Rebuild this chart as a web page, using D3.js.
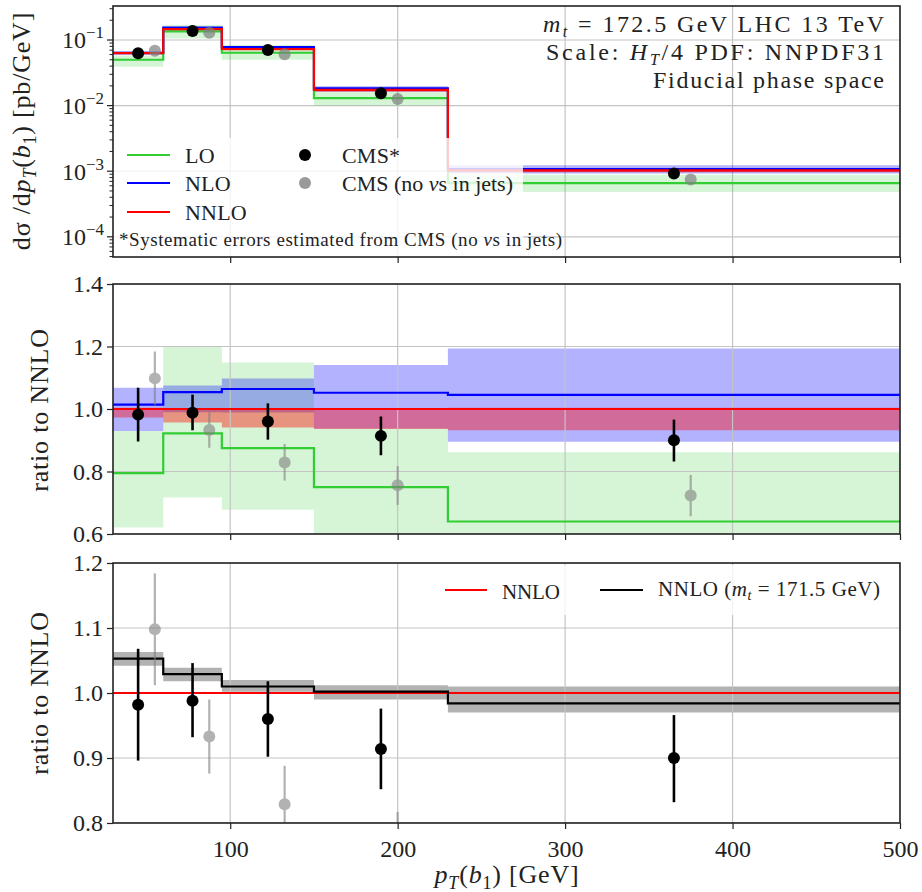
<!DOCTYPE html>
<html>
<head>
<meta charset="utf-8">
<script src="https://cdn.jsdelivr.net/npm/d3@7"></script>
<style>
  body { margin: 0; background: #fff; }
  text { font-family: "Liberation Serif", "DejaVu Serif", serif; fill: #222; }
</style>
</head>
<body>
<div id="chart"></div>
<script>
// bin edges and ticks
var binEdges = [30, 60, 95, 150, 230, 500];
var xTicks = [100, 200, 300, 400, 500];
var topTicks = [1e-4, 1e-3, 1e-2, 1e-1];
var midTicks = [0.6, 0.8, 1.0, 1.2, 1.4];
var botTicks = [0.8, 0.9, 1.0, 1.1, 1.2];

// top panel: dsigma/dpT [pb/GeV]
var loVals = [0.050, 0.135, 0.064, 0.0130, 0.00066];
var loBandLo = [0.039, 0.105, 0.050, 0.0100, 0.00048];
var loBandHi = [0.058, 0.170, 0.084, 0.0163, 0.00088];
var nloVals = [0.064, 0.155, 0.078, 0.0183, 0.00108];
var nloBandLo = [0.059, 0.145, 0.072, 0.0163, 0.00092];
var nloBandHi = [0.067, 0.158, 0.080, 0.0198, 0.00123];
var nnloVals = [0.063, 0.147, 0.073, 0.0174, 0.00103];
var nnloBandLo = [0.061, 0.141, 0.069, 0.0163, 0.00096];
var nnloBandHi = [0.0633, 0.1475, 0.0733, 0.0175, 0.00104];

// data points
var cmsX = [45, 77.5, 122.5, 190, 365];
var cmsVals = [0.0627, 0.137, 0.0704, 0.0154, 0.00092];
var noNuX = [55, 87.5, 132.5, 200, 375];
var noNuVals = [0.0687, 0.129, 0.0605, 0.0126, 0.00075];

// middle panel: ratio to NNLO
var loRatio = [0.795, 0.922, 0.875, 0.750, 0.640];
var loRatioLo = [0.621, 0.717, 0.678, 0.575, 0.470];
var loRatioHi = [0.930, 1.200, 1.149, 0.938, 0.862];
var nloRatio = [1.014, 1.054, 1.064, 1.052, 1.045];
var nloRatioLo = [0.930, 0.990, 0.989, 0.938, 0.895];
var nloRatioHi = [1.068, 1.075, 1.098, 1.141, 1.194];
var nnloRatio = [1.0, 1.0, 1.0, 1.0, 1.0];
var nnloRatioLo = [0.973, 0.957, 0.941, 0.936, 0.932];
var nnloRatioHi = [1.004, 1.003, 1.003, 1.003, 1.004];

var cmsRatio = [0.982, 0.988, 0.960, 0.914, 0.900];
var cmsRatioLo = [0.896, 0.932, 0.902, 0.852, 0.832];
var cmsRatioHi = [1.068, 1.046, 1.018, 0.976, 0.966];
var noNuRatio = [1.098, 0.933, 0.829, 0.756, 0.723];
var noNuRatioLo = [1.012, 0.876, 0.771, 0.693, 0.657];
var noNuRatioHi = [1.184, 0.990, 0.888, 0.817, 0.789];

// bottom panel: mt = 171.5 GeV over NNLO
var mtRatio = [1.053, 1.029, 1.010, 1.002, 0.984];
var mtRatioLo = [1.042, 1.018, 1.002, 0.990, 0.970];
var mtRatioHi = [1.063, 1.039, 1.020, 1.012, 1.010];

var W = 922, H = 892;
var green = "#32cd32", blue = "#0000ff", red = "#ff0000";
var serif = "Liberation Serif, DejaVu Serif, serif";

var svg = d3.select("#chart").append("svg")
  .attr("width", W)
  .attr("height", H)
  .attr("font-family", serif);

var x = d3.scaleLinear().domain([30, 500]).range([113, 900]);
var yTop = d3.scaleLog().domain([4.92e-5, 0.33]).range([257, 6]);
var yMid = d3.scaleLinear().domain([0.6, 1.4]).range([534, 284]);
var yBot = d3.scaleLinear().domain([0.8, 1.2]).range([823, 563]);

//step helpers: one point per edge, last value repeated
function steps(vals) {
  return binEdges.map(function(e, i) { return {x: e, v: vals[Math.min(i, vals.length - 1)]}; });
}
function bandSteps(lo, hi) {
  return binEdges.map(function(e, i) {
    var k = Math.min(i, lo.length - 1);
    return {x: e, lo: lo[k], hi: hi[k]};
  });
}

// rich text: parts with italic / subscript flags
function richText(t, parts, subSize, shift) {
  var down = false;
  parts.forEach(function(s) {
    var ts = t.append("tspan").text(s.t);
    if (s.i) ts.attr("font-style", "italic");
    if (s.sub) {
      ts.attr("font-size", subSize);
      if (!down) { ts.attr("dy", shift); down = true; }
    } else if (down) {
      ts.attr("dy", -shift); down = false;
    }
  });
}

function setupPanel(id, y, ticks) {
  var r = y.range();
  var g = svg.append("g");
  svg.append("clipPath").attr("id", id)
    .append("rect")
    .attr("x", x.range()[0]).attr("y", r[1])
    .attr("width", x.range()[1] - x.range()[0])
    .attr("height", r[0] - r[1]);
  var inner = g.append("g").attr("clip-path", "url(#" + id + ")");
  return {g: g, inner: inner, y: y, ticks: ticks};
}

function drawGrid(p) {
  var r = p.y.range();
  p.inner.selectAll(".gx").data(xTicks).enter().append("line")
    .attr("x1", d => x(d)).attr("x2", d => x(d))
    .attr("y1", r[0]).attr("y2", r[1])
    .attr("stroke", "#c4c4c4").attr("stroke-width", 1.2);
  p.inner.selectAll(".gy").data(p.ticks).enter().append("line")
    .attr("x1", x.range()[0]).attr("x2", x.range()[1])
    .attr("y1", d => p.y(d)).attr("y2", d => p.y(d))
    .attr("stroke", "#c4c4c4").attr("stroke-width", 1.2);
}

function drawBand(p, lo, hi, color, op) {
  var area = d3.area().curve(d3.curveStepAfter)
    .x(d => x(d.x)).y0(d => p.y(d.lo)).y1(d => p.y(d.hi));
  p.inner.append("path").datum(bandSteps(lo, hi))
    .attr("d", area).attr("fill", color).attr("fill-opacity", op);
}

function drawStep(p, vals, color, w) {
  var line = d3.line().curve(d3.curveStepAfter)
    .x(d => x(d.x)).y(d => p.y(d.v));
  p.inner.append("path").datum(steps(vals))
    .attr("d", line).attr("fill", "none")
    .attr("stroke", color).attr("stroke-width", w);
}

function drawPoints(p, xs, vals, lo, hi, color, op, r, w) {
  var g = p.inner.append("g").attr("opacity", op);
  if (lo) {
    g.selectAll("line").data(xs).enter().append("line")
      .attr("x1", d => x(d)).attr("x2", d => x(d))
      .attr("y1", (d, i) => p.y(lo[i])).attr("y2", (d, i) => p.y(hi[i]))
      .attr("stroke", color).attr("stroke-width", w);
  }
  g.selectAll("circle").data(xs).enter().append("circle")
    .attr("cx", d => x(d)).attr("cy", (d, i) => p.y(vals[i]))
    .attr("r", r).attr("fill", color);
}

function drawFrame(p, labels) {
  var r = p.y.range();
  var xAxis = d3.axisBottom(x).tickValues(xTicks).tickSize(6).tickFormat(labels ? d3.format("d") : "");
  var ax = p.g.append("g").attr("transform", "translate(0," + r[0] + ")").call(xAxis)
    .attr("font-family", serif);
  ax.select(".domain").remove();
  ax.selectAll("line").attr("stroke", "#222").attr("stroke-width", 1.2);
  ax.selectAll("text").attr("font-size", 24).attr("dy", "1.05em").attr("fill", "#222");
  p.g.append("rect")
    .attr("x", x.range()[0]).attr("y", r[1])
    .attr("width", x.range()[1] - x.range()[0]).attr("height", r[0] - r[1])
    .attr("fill", "none").attr("stroke", "#222").attr("stroke-width", 1.6);
}

function linearYAxis(p, fmt) {
  var ax = p.g.append("g").attr("transform", "translate(" + x.range()[0] + ",0)")
    .call(d3.axisLeft(p.y).tickValues(p.ticks).tickSize(6).tickFormat(d3.format(fmt)))
    .attr("font-family", serif);
  ax.select(".domain").remove();
  ax.selectAll("line").attr("stroke", "#222").attr("stroke-width", 1.2);
  ax.selectAll("text").attr("font-size", 24).attr("x", -10).attr("fill", "#222");
}

function yLabel(cx, cy, parts) {
  var t = svg.append("text")
    .attr("transform", "translate(" + cx + "," + cy + ") rotate(-90)")
    .attr("text-anchor", "middle").attr("font-size", 26)
    .attr("letter-spacing", 0.8);
  richText(t, parts, 18, 6);
}

// ---------- top panel ----------
var pTop = setupPanel("clipTop", yTop, topTicks);
drawGrid(pTop);
drawBand(pTop, loBandLo, loBandHi, green, 0.2);
drawBand(pTop, nloBandLo, nloBandHi, blue, 0.3);
drawBand(pTop, nnloBandLo, nnloBandHi, red, 0.4);
drawStep(pTop, loVals, green, 2.2);
drawStep(pTop, nloVals, blue, 2.2);
drawStep(pTop, nnloVals, red, 2.2);
drawPoints(pTop, noNuX, noNuVals, null, null, "grey", 0.7, 6, 2);
drawPoints(pTop, cmsX, cmsVals, null, null, "#000", 1, 6, 2.5);

//legend box over the lines
var lg = pTop.inner.append("g");
lg.append("rect").attr("x", 113).attr("y", 138).attr("width", 410).attr("height", 120)
  .attr("fill", "#fff").attr("fill-opacity", 0.8);
var legLines = [{c: green, t: "LO", y: 155}, {c: blue, t: "NLO", y: 183}, {c: red, t: "NNLO", y: 212}];
legLines.forEach(function(d) {
  lg.append("line").attr("x1", 127).attr("x2", 170).attr("y1", d.y).attr("y2", d.y)
    .attr("stroke", d.c).attr("stroke-width", 2.2);
  lg.append("text").attr("x", 185).attr("y", d.y).attr("dy", "0.35em")
    .attr("font-size", 22).attr("letter-spacing", 0.2).text(d.t);
});
lg.append("circle").attr("cx", 305).attr("cy", 155).attr("r", 6).attr("fill", "#000");
lg.append("text").attr("x", 342).attr("y", 155).attr("dy", "0.35em").attr("font-size", 22)
  .attr("letter-spacing", 0.2).text("CMS*");
lg.append("circle").attr("cx", 305).attr("cy", 183).attr("r", 6).attr("fill", "grey").attr("opacity", 0.8);
var tn = lg.append("text").attr("x", 342).attr("y", 183).attr("dy", "0.35em").attr("font-size", 22)
  .attr("textLength", 171).attr("lengthAdjust", "spacing");
richText(tn, [{t: "CMS (no "}, {t: "ν", i: 1}, {t: "s in jets)"}], 16, 5);
var fn = lg.append("text").attr("x", 119).attr("y", 246).attr("font-size", 19)
  .attr("textLength", 443).attr("lengthAdjust", "spacing");
richText(fn, [{t: "*Systematic errors estimated from CMS (no "}, {t: "ν", i: 1}, {t: "s in jets)"}], 14, 4);

drawFrame(pTop, false);

// log y axis with minor ticks
var minor = [];
[-5, -4, -3, -2, -1].forEach(function(e) {
  for (var m = 2; m <= 9; m++) {
    var v = m * Math.pow(10, e);
    if (v >= yTop.domain()[0] && v <= yTop.domain()[1]) minor.push(v);
  }
});
pTop.g.selectAll(".minor").data(minor).enter().append("line")
  .attr("x1", 113 - 3.5).attr("x2", 113)
  .attr("y1", d => yTop(d)).attr("y2", d => yTop(d))
  .attr("stroke", "#222").attr("stroke-width", 1);
pTop.g.selectAll(".major").data(topTicks).enter().append("line")
  .attr("x1", 113 - 6).attr("x2", 113)
  .attr("y1", d => yTop(d)).attr("y2", d => yTop(d))
  .attr("stroke", "#222").attr("stroke-width", 1.2);
pTop.g.selectAll(".tl").data(topTicks).enter().append("text")
  .attr("x", 104).attr("y", d => yTop(d)).attr("dy", "0.35em")
  .attr("text-anchor", "end").attr("font-size", 24)
  .each(function(d) {
    var t = d3.select(this);
    t.append("tspan").text("10");
    t.append("tspan").attr("font-size", 17).attr("dy", -10).text("−" + Math.round(-Math.log10(d)));
  });

// annotation top right, widths
var ann = [
  [{t: "m", i: 1}, {t: "t", i: 1, sub: 1}, {t: " = 172.5 GeV LHC 13 TeV"}],
  [{t: "Scale: "}, {t: "H", i: 1}, {t: "T", i: 1, sub: 1}, {t: "/4 PDF: NNPDF31"}],
  [{t: "Fiducial phase space"}]
];
var annY = [32, 60, 88];
var annLen = [341, 338, 231];
ann.forEach(function(parts, k) {
  var t = svg.append("text").attr("x", 884).attr("y", annY[k])
    .attr("text-anchor", "end").attr("font-size", 24)
    .attr("textLength", annLen[k]).attr("lengthAdjust", "spacing");
  richText(t, parts, 16, 5);
});

yLabel(30, 131, [{t: "dσ /d"}, {t: "p", i: 1}, {t: "T", i: 1, sub: 1}, {t: "("}, {t: "b", i: 1}, {t: "1", sub: 1}, {t: ") [pb/GeV]"}]);

// ---------- middle panel ----------
var pMid = setupPanel("clipMid", yMid, midTicks);
drawBand(pMid, loRatioLo, loRatioHi, green, 0.2);
drawBand(pMid, nloRatioLo, nloRatioHi, blue, 0.3);
drawBand(pMid, nnloRatioLo, nnloRatioHi, red, 0.4);
drawGrid(pMid);
drawStep(pMid, loRatio, green, 2.2);
drawStep(pMid, nloRatio, blue, 2.2);
drawStep(pMid, nnloRatio, red, 2.2);
drawPoints(pMid, noNuX, noNuRatio, noNuRatioLo, noNuRatioHi, "grey", 0.6, 6, 2.2);
drawPoints(pMid, cmsX, cmsRatio, cmsRatioLo, cmsRatioHi, "#000", 1, 6, 2.6);
drawFrame(pMid, false);
linearYAxis(pMid, ".1f");
yLabel(48, 410, [{t: "ratio to NNLO"}]);

// ---------- bottom panel ----------
var pBot = setupPanel("clipBot", yBot, botTicks);
drawBand(pBot, mtRatioLo, mtRatioHi, "#000", 0.3);
drawGrid(pBot);
drawStep(pBot, nnloRatio, red, 2);
drawStep(pBot, mtRatio, "#000", 2.2);
drawPoints(pBot, noNuX, noNuRatio, noNuRatioLo, noNuRatioHi, "grey", 0.6, 6, 2.2);
drawPoints(pBot, cmsX, cmsRatio, cmsRatioLo, cmsRatioHi, "#000", 1, 6, 2.6);

var lb = pBot.inner.append("g");
lb.append("rect").attr("x", 432).attr("y", 565).attr("width", 458).attr("height", 50)
  .attr("fill", "#fff").attr("fill-opacity", 0.8);
lb.append("line").attr("x1", 445).attr("x2", 487).attr("y1", 590).attr("y2", 590)
  .attr("stroke", red).attr("stroke-width", 2);
lb.append("text").attr("x", 502).attr("y", 592).attr("dy", "0.35em").attr("font-size", 21)
  .attr("textLength", 58).attr("lengthAdjust", "spacing").text("NNLO");
lb.append("line").attr("x1", 600).attr("x2", 643).attr("y1", 590).attr("y2", 590)
  .attr("stroke", "#000").attr("stroke-width", 2.2);
var tm = lb.append("text").attr("x", 658).attr("y", 589).attr("dy", "0.35em").attr("font-size", 21)
  .attr("textLength", 222).attr("lengthAdjust", "spacing");
richText(tm, [{t: "NNLO ("}, {t: "m", i: 1}, {t: "t", i: 1, sub: 1}, {t: " = 171.5 GeV)"}], 14, 4);

drawFrame(pBot, true);
linearYAxis(pBot, ".1f");
yLabel(48, 693, [{t: "ratio to NNLO"}]);

// x label
var xl = svg.append("text").attr("x", 507).attr("y", 883).attr("text-anchor", "middle")
  .attr("font-size", 26).attr("letter-spacing", 0.8);
richText(xl, [{t: "p", i: 1}, {t: "T", i: 1, sub: 1}, {t: "("}, {t: "b", i: 1}, {t: "1", sub: 1}, {t: ") [GeV]"}], 18, 6);
</script>
</body>
</html>
